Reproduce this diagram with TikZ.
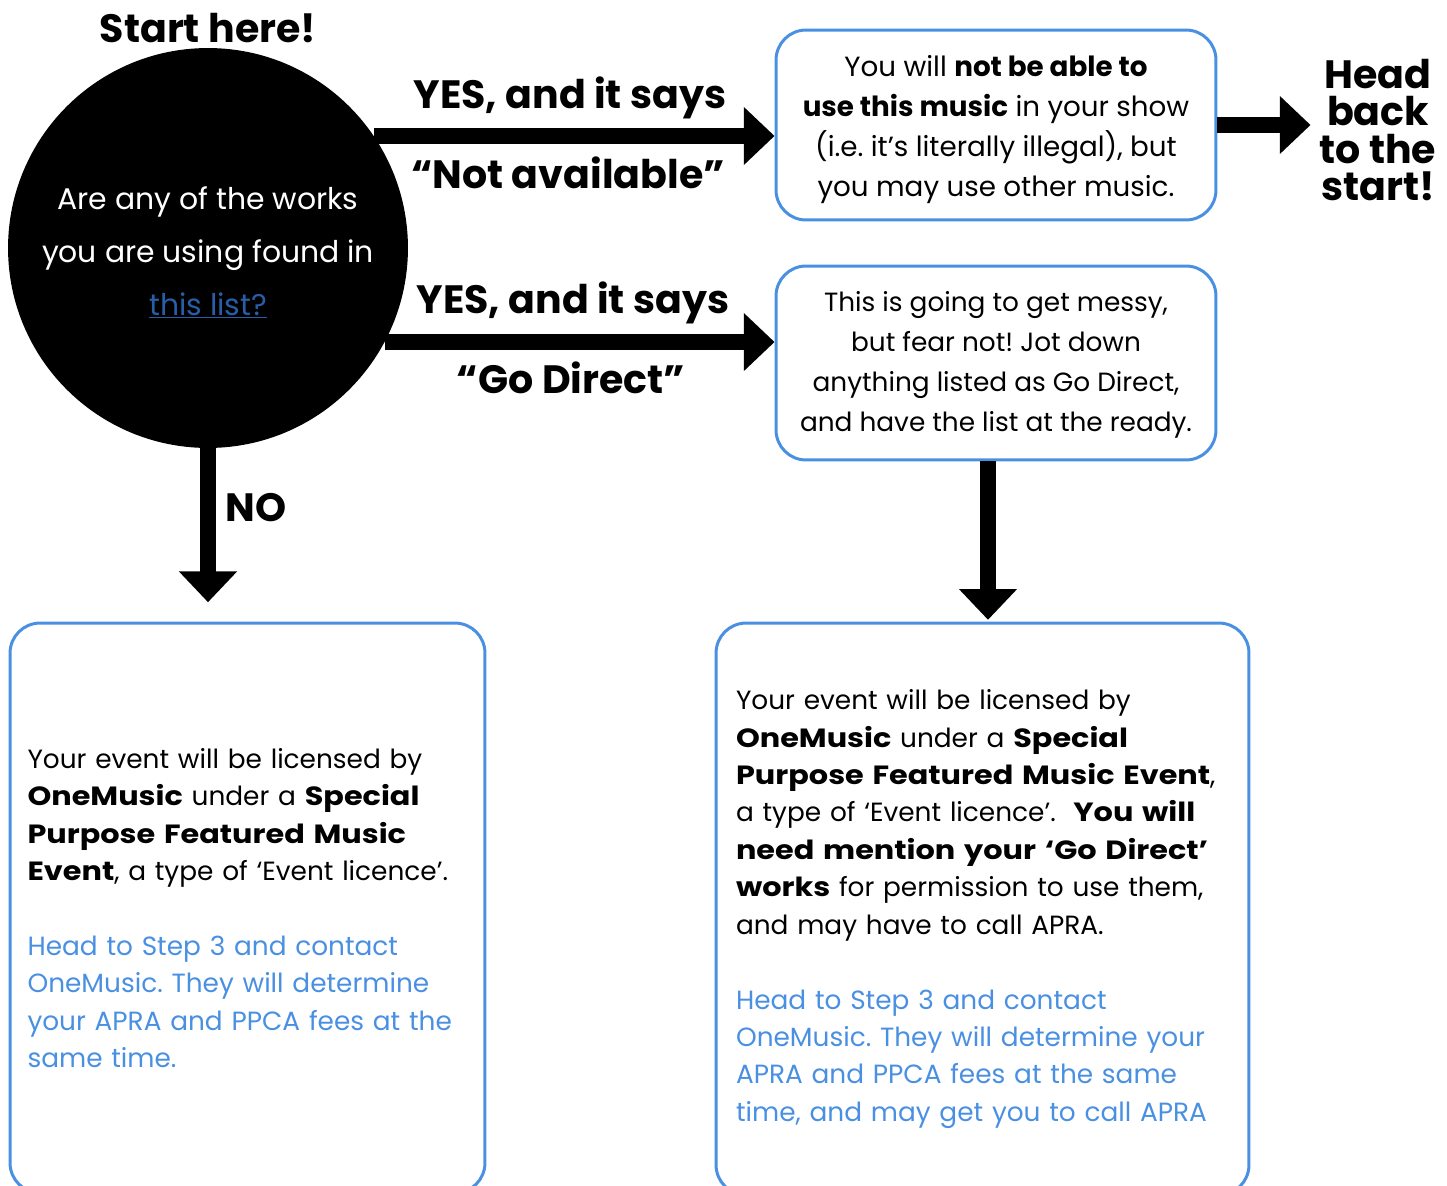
\documentclass[tikz,border=0pt]{standalone}
\usepackage{fontspec}
\setmainfont{Poppins}
\newfontfamily\widefont{Poppins}[BoldFeatures={FakeStretch=1.15}]
\usetikzlibrary{
		arrows.meta,
		positioning
	}
\frenchspacing
\definecolor{boxblue}{RGB}{74,144,226}
\definecolor{linkblue}{RGB}{40,94,166}
\newcommand{\bluetext}[1]{{\color{boxblue}#1}}
\newcommand{\topgap}[1]{\rule{0pt}{#1}}
\tikzset{
		bigarrow/.style={line width=9pt, -{Triangle[length=17.5pt,width=32pt]}},
		bluebox/.style={draw=boxblue, line width=1.7pt, rounded corners=0.6cm},
		bigtext/.style={font=\fontsize{22.5}{21.3}\selectfont\bfseries}
	}

\begin{document}
\begin{tikzpicture}[x=0.02cm,y=-0.02cm]
    \clip (0,0) rectangle (1447,1186);

    % the question in the black circle
    \node[circle, fill=black, minimum size=8cm, inner sep=0pt, text=white, align=center,
          font=\fontsize{17}{30}\selectfont] (start) at (208,248)
        {\topgap{18.5pt}Are any of the works\\you are using found in\\{\color{linkblue}\underline{this list?}}};
    \node[bigtext] (title) at (208,28) {Start here!};

    % the boxes on the right
    \node[bluebox, minimum width=8.8cm, minimum height=3.8cm, align=center,
          font=\fontsize{15.8}{22.7}\selectfont] (notok) at (996,125)
        {\topgap{17pt}You will \textbf{not be able to}\\\textbf{use this music} in your show\\(i.e. it’s literally illegal), but\\you may use other music.};
    \node[bluebox, minimum width=8.8cm, minimum height=3.88cm, align=center,
          font=\fontsize{15}{22.7}\selectfont] (messy) at (996,363)
        {\topgap{13.5pt}This is going to get messy,\\but fear not! Jot down\\anything listed as Go Direct,\\and have the list at the ready.};
    \node[bigtext, align=center, inner sep=0pt] (back) at (1378,130) {Head\\back\\to the\\start!};

    % the boxes at the bottom
    \node[bluebox, minimum width=9.5cm, minimum height=11.4cm, text width=8.8cm, align=left,
          inner xsep=0.35cm, font=\widefont\fontsize{15}{21.3}\selectfont] (nolist) at (247.5,908)
        {Your event will be licensed by\\
         \textbf{OneMusic} under a \textbf{Special}\\
         \textbf{Purpose Featured Music}\\
         \textbf{Event}, a type of ‘Event licence’.\\[21.3pt]
         \bluetext{Head to Step 3 and contact}\\
         \bluetext{OneMusic. They will determine}\\
         \bluetext{your APRA and PPCA fees at the}\\
         \bluetext{same time.}};
    \node[bluebox, minimum width=10.66cm, minimum height=11.44cm, text width=9.86cm, align=left,
          inner xsep=0.4cm, font=\widefont\fontsize{15}{21.3}\selectfont] (direct) at (982.5,909)
        {Your event will be licensed by\\
         \textbf{OneMusic} under a \textbf{Special}\\
         \textbf{Purpose Featured Music Event},\\
         a type of ‘Event licence’.\ \ \textbf{You will}\\
         \textbf{need mention your ‘Go Direct’}\\
         \textbf{works} for permission to use them,\\
         and may have to call APRA.\\[21.3pt]
         \bluetext{Head to Step 3 and contact}\\
         \bluetext{OneMusic. They will determine your}\\
         \bluetext{APRA and PPCA fees at the same}\\
         \bluetext{time, and may get you to call APRA}};

    % the arrows and their labels
    \draw[bigarrow] (start.34) -- (start.34 -| notok.west);
    \draw[bigarrow] (start.-28) -- (start.-28 -| messy.west);
    \draw[bigarrow, shorten >=5pt] (notok.east) -- (notok.east -| back.west);
    \draw[bigarrow, shorten >=11pt] (start.south) -- (start.south |- nolist.north);
    \draw[bigarrow, shorten >=1pt] ([xshift=-0.16cm]messy.south) -- ([xshift=-0.16cm]messy.south |- direct.north);

    \node[bigtext] (yesna) at (570,98) {YES, and it says};
    \node[bigtext] (notavail) at (568,173) {“Not available”};
    \node[bigtext] (yesgd) at (573,303) {YES, and it says};
    \node[bigtext] (godir) at (571,378) {“Go Direct”};
    \node[bigtext] (no) at (256,508) {NO};
\end{tikzpicture}
\end{document}
